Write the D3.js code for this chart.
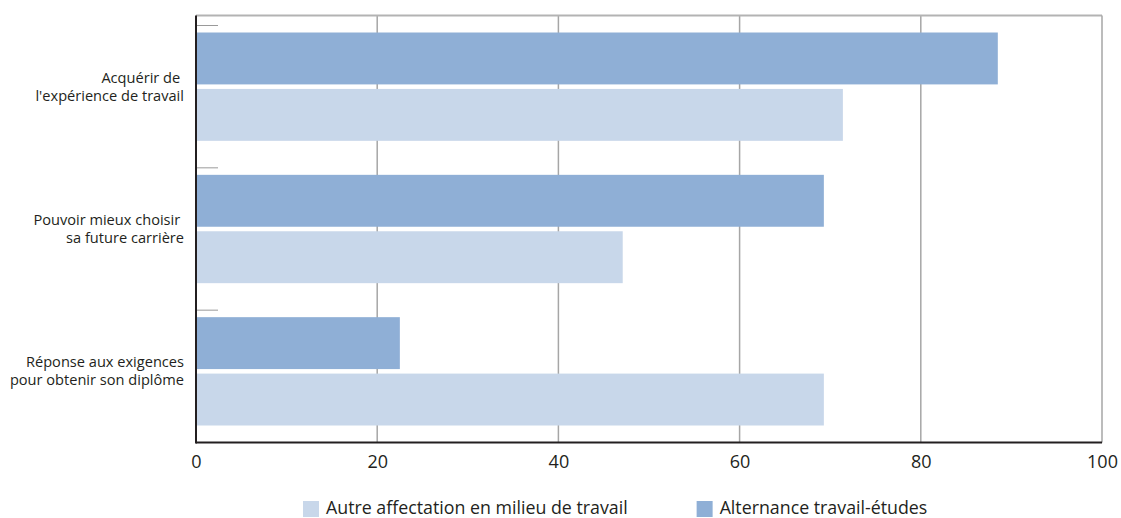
<!DOCTYPE html>
<html>
<head>
<meta charset="utf-8">
<script src="https://cdn.jsdelivr.net/npm/d3@7"></script>
<style>
  body { margin: 0; background: #fff; }
  text { font-family: "Open Sans", Lato, sans-serif; fill: #231f20; }
</style>
</head>
<body>
<div id="chart"></div>
<script>
const categories = [
  ["Acquérir de ", "l'expérience de travail"],
  ["Pouvoir mieux choisir ", "sa future carrière"],
  ["Réponse aux exigences", "pour obtenir son diplôme"]
];
const seriesNames = ["Alternance travail-études", "Autre affectation en milieu de travail"];
const alternance = [88.5, 69.3, 22.5];
const autre = [71.4, 47.1, 69.3];
const xTicks = [0, 20, 40, 60, 80, 100];
const legendOrder = ["Autre affectation en milieu de travail", "Alternance travail-études"];

const colors = {
  "Alternance travail-études": "#8fafd6",
  "Autre affectation en milieu de travail": "#c8d7ea"
};

const W = 1121, H = 518;
const margin = { top: 15.5, right: 19, bottom: 75.5, left: 196 };
const width = W - margin.left - margin.right;
const height = H - margin.top - margin.bottom;

const svg = d3.select("#chart").append("svg")
  .attr("width", W).attr("height", H);
const g = svg.append("g")
  .attr("transform", `translate(${margin.left},${margin.top})`);

const rows = categories.map((c, i) => ({
  key: i,
  label: c,
  values: [
    { s: seriesNames[0], v: alternance[i] },
    { s: seriesNames[1], v: autre[i] }
  ]
}));

const x = d3.scaleLinear().domain([0, 100]).range([0, width]);
const y0 = d3.scaleBand().domain(rows.map(d => d.key)).range([0, height]).padding(0);
const y1 = d3.scaleBand().domain(seriesNames)
  .range([17, y0.bandwidth() - 17]).paddingInner(0.08);

// grille verticale
g.selectAll(".grid").data(xTicks.slice(1, -1)).enter().append("line")
  .attr("x1", d => x(d)).attr("x2", d => x(d))
  .attr("y1", 0).attr("y2", height)
  .attr("stroke", "#a6a6a6").attr("stroke-width", 1.5);

// cadre haut / droite
g.append("line").attr("x1", 0).attr("x2", width).attr("y1", 0).attr("y2", 0)
  .attr("stroke", "#b3b3b3").attr("stroke-width", 2);
g.append("line").attr("x1", width).attr("x2", width).attr("y1", 0).attr("y2", height)
  .attr("stroke", "#a6a6a6").attr("stroke-width", 1.5);

// barres
const grp = g.selectAll(".row").data(rows).enter().append("g")
  .attr("transform", d => `translate(0,${y0(d.key)})`);
grp.selectAll("rect").data(d => d.values).enter().append("rect")
  .attr("x", 0)
  .attr("y", d => y1(d.s))
  .attr("width", d => x(d.v))
  .attr("height", y1.bandwidth())
  .attr("fill", d => colors[d.s]);

// petits traits de catégorie
g.selectAll(".ctick").data(rows).enter().append("line")
  .attr("x1", 0).attr("x2", 22)
  .attr("y1", d => y0(d.key) + 10).attr("y2", d => y0(d.key) + 10)
  .attr("stroke", "#9a9a9a").attr("stroke-width", 1);

// étiquettes de catégorie
const lab = g.selectAll(".clabel").data(rows).enter().append("text")
  .attr("text-anchor", "end")
  .attr("font-size", 14.6)
  .attr("transform", d => `translate(-12,${y0(d.key) + y0.bandwidth() / 2})`);
lab.selectAll("tspan").data(d => d.label).enter().append("tspan")
  .attr("x", 0)
  .attr("y", (d, i) => (i - 0.5) * 18 + 5)
  .style("white-space", "pre")
  .text(d => d);

// axes
g.append("line").attr("x1", 0).attr("x2", width).attr("y1", height).attr("y2", height)
  .attr("stroke", "#231f20").attr("stroke-width", 2);
g.append("line").attr("x1", 0).attr("x2", 0).attr("y1", 0).attr("y2", height + 1)
  .attr("stroke", "#231f20").attr("stroke-width", 2);

const xAxis = g.append("g")
  .attr("transform", `translate(0,${height})`)
  .call(d3.axisBottom(x).tickValues(xTicks).tickSize(0).tickPadding(13));
xAxis.select(".domain").remove();
xAxis.selectAll("text")
  .attr("font-size", 18)
  .style("font-family", "'Open Sans', sans-serif")
  .attr("fill", "#231f20");

// légende
const leg = svg.append("g").attr("transform", "translate(303,500)");
let lx = 0;
legendOrder.forEach(name => {
  const it = leg.append("g").attr("transform", `translate(${lx},0)`);
  it.append("rect").attr("y", 1).attr("width", 16).attr("height", 16).attr("fill", colors[name]);
  const t = it.append("text").attr("x", 23).attr("y", 14)
    .attr("font-size", 17.8).text(name);
  lx += 23 + t.node().getComputedTextLength() + 69;
});
</script>
</body>
</html>
